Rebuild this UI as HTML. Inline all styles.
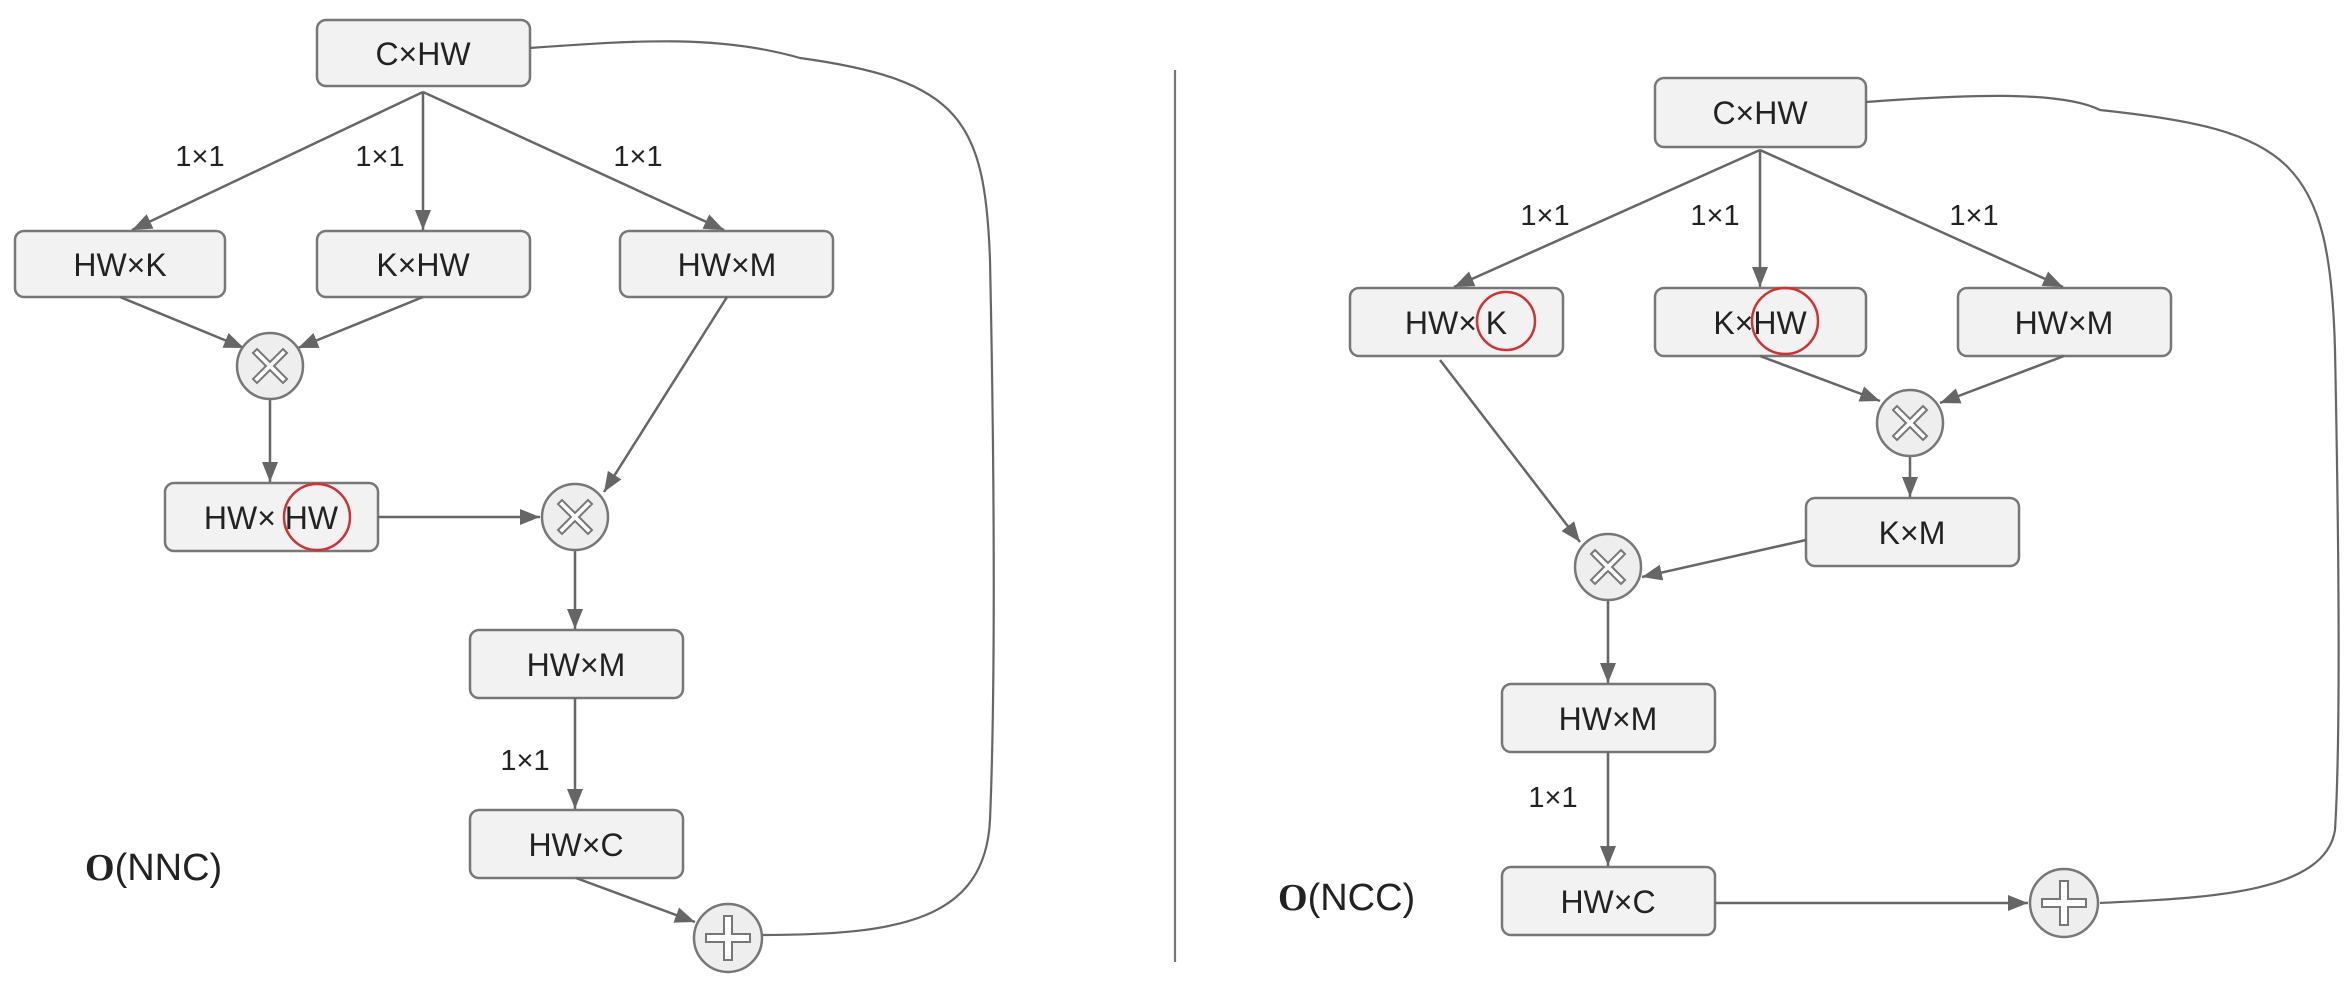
<!DOCTYPE html>
<html><head><style>body{margin:0;background:#fff}svg{display:block}text{font-family:"Liberation Sans",sans-serif;fill:#222}</style></head>
<body>
<svg width="2352" height="986" viewBox="0 0 2352 986" xmlns="http://www.w3.org/2000/svg">
<defs>
<marker id="a" viewBox="0 0 10 10" refX="9" refY="5" markerWidth="9" markerHeight="9" markerUnits="userSpaceOnUse" orient="auto"><path d="M0,0L10,5L0,10z" fill="#666"/></marker>
<marker id="b" viewBox="0 0 10 10" refX="10" refY="5" markerWidth="20" markerHeight="20" markerUnits="userSpaceOnUse" orient="auto"><path d="M0,1L10,5L0,9z" fill="#666"/></marker>
<g id="mul"><circle r="33" fill="#eee" stroke="#777" stroke-width="2.5"/><path d="M-17,-13L-13,-17L0,-4L13,-17L17,-13L4,0L17,13L13,17L0,4L-13,17L-17,13L-4,0z" fill="#fff" stroke="#777" stroke-width="2"/></g>
<g id="add"><circle r="34" fill="#eee" stroke="#777" stroke-width="2.5"/><path d="M-4,-22H4V-4H22V4H4V22H-4V4H-22V-4H-4z" fill="#fff" stroke="#777" stroke-width="2"/></g>
</defs>
<g fill="#f2f2f2" stroke="#777" stroke-width="2.5">
<rect x="317" y="20" width="213" height="66" rx="9"/>
<rect x="15" y="231" width="210" height="66" rx="9"/>
<rect x="317" y="231" width="213" height="66" rx="9"/>
<rect x="620" y="231" width="213" height="66" rx="9"/>
<rect x="165" y="483" width="213" height="68" rx="9"/>
<rect x="470" y="630" width="213" height="68" rx="9"/>
<rect x="470" y="810" width="213" height="68" rx="9"/>
<rect x="1655" y="78" width="211" height="69" rx="9"/>
<rect x="1350" y="288" width="213" height="68" rx="9"/>
<rect x="1655" y="288" width="211" height="68" rx="9"/>
<rect x="1958" y="288" width="213" height="68" rx="9"/>
<rect x="1806" y="498" width="213" height="68" rx="9"/>
<rect x="1502" y="684" width="213" height="68" rx="9"/>
<rect x="1502" y="867" width="213" height="68" rx="9"/>
</g>
<g stroke="#666" stroke-width="2.5" fill="none" marker-end="url(#b)">
<line x1="423" y1="92" x2="132" y2="230"/>
<line x1="423" y1="92" x2="423" y2="230"/>
<line x1="423" y1="92" x2="724" y2="230"/>
<line x1="120" y1="297" x2="244" y2="348"/>
<line x1="423" y1="297" x2="298" y2="348"/>
<line x1="270" y1="400" x2="270" y2="482"/>
<line x1="727" y1="297" x2="604" y2="492"/>
<line x1="378" y1="517" x2="540" y2="517"/>
<line x1="575" y1="551" x2="575" y2="629"/>
<line x1="575" y1="698" x2="575" y2="809"/>
<line x1="576" y1="878" x2="695" y2="922"/>
<line x1="1760" y1="150" x2="1454" y2="287"/>
<line x1="1760" y1="150" x2="1760" y2="287"/>
<line x1="1760" y1="150" x2="2063" y2="287"/>
<line x1="1760" y1="356" x2="1880" y2="401"/>
<line x1="2064" y1="356" x2="1940" y2="403"/>
<line x1="1910" y1="457" x2="1910" y2="497"/>
<line x1="1440" y1="360" x2="1580" y2="542"/>
<line x1="1806" y1="540" x2="1642" y2="577"/>
<line x1="1608" y1="601" x2="1608" y2="683"/>
<line x1="1608" y1="752" x2="1608" y2="866"/>
<line x1="1715" y1="903" x2="2028" y2="903"/>
</g>
<g stroke="#666" stroke-width="2.2" fill="none">
<path d="M530,48 C640,40 720,35 800,58 C960,80 985,120 990,260 C995,500 995,700 990,820 C985,920 900,935 762,935"/>
<path d="M1866,102 C1960,95 2060,90 2100,110 C2290,130 2330,160 2335,350 C2340,600 2340,750 2335,830 C2325,895 2200,898 2100,903"/>
<line x1="1175" y1="70" x2="1175" y2="962" stroke="#777"/>
</g>
<use href="#mul" x="270" y="366"/>
<use href="#mul" x="575" y="517"/>
<use href="#add" x="728" y="938"/>
<use href="#mul" x="1910" y="423"/>
<use href="#mul" x="1608" y="567"/>
<use href="#add" x="2064" y="903"/>
<g font-size="32" text-anchor="middle">
<text x="423" y="65">C×HW</text>
<text x="120" y="276">HW×K</text>
<text x="423" y="276">K×HW</text>
<text x="727" y="276">HW×M</text>
<text x="271" y="529">HW× HW</text>
<text x="576" y="676">HW×M</text>
<text x="576" y="856">HW×C</text>
<text x="1760" y="124">C×HW</text>
<text x="1456" y="334">HW× K</text>
<text x="1760" y="334">K×HW</text>
<text x="2064" y="334">HW×M</text>
<text x="1912" y="544">K×M</text>
<text x="1608" y="730">HW×M</text>
<text x="1608" y="913">HW×C</text>
</g>
<g font-size="29" text-anchor="middle">
<text x="200" y="166">1×1</text><text x="380" y="166">1×1</text><text x="638" y="166">1×1</text><text x="525" y="770">1×1</text>
<text x="1545" y="225">1×1</text><text x="1715" y="225">1×1</text><text x="1974" y="225">1×1</text><text x="1553" y="807">1×1</text>
</g>
<g fill="none" stroke="#c33" stroke-width="2.5">
<circle cx="317" cy="517" r="33"/><circle cx="1506" cy="321" r="29"/><circle cx="1785" cy="321" r="33"/>
</g>
<text x="85" y="880" font-size="38"><tspan font-family="Liberation Serif" font-weight="bold">O</tspan>(NNC)</text>
<text x="1278" y="910" font-size="38"><tspan font-family="Liberation Serif" font-weight="bold">O</tspan>(NCC)</text>
</svg>
</body></html>
